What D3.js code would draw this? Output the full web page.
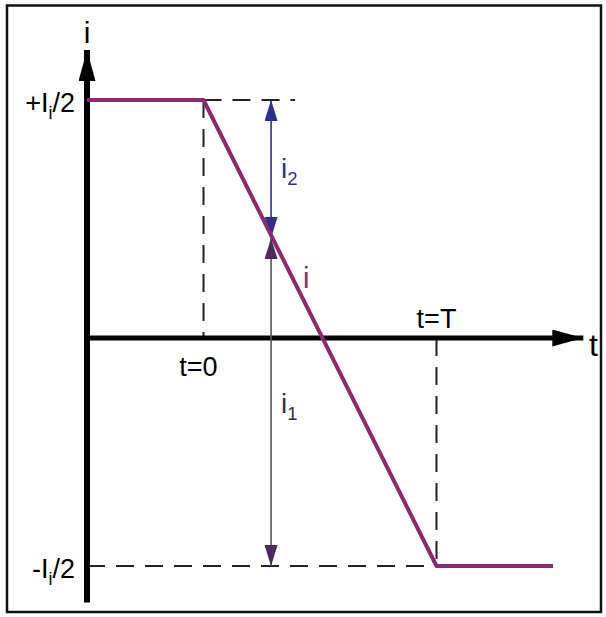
<!DOCTYPE html>
<html>
<head>
<meta charset="utf-8">
<script src="https://cdn.jsdelivr.net/npm/d3@7"></script>
<style>
  html, body { margin: 0; padding: 0; background: #fff; }
  svg text { font-family: "Liberation Sans", Arial, Helvetica, sans-serif; }
</style>
</head>
<body>
<svg id="chart" width="606" height="617"></svg>
<script>
  "use strict";

  // waveform of the current i(t): flat, linear ramp, flat
  var waveT = [-0.5, 0, 1, 1.5];
  var waveI = [0.5, 0.5, -0.5, -0.5];

  // current levels (+Ii/2, -Ii/2) and switching instants
  var levels = [0.5, -0.5];
  var instants = [0, 1];
  var instantLabels = ['t=0', 't=T'];

  // instant where i1 / i2 are measured
  var tMeasure = 0.29;

  // extent of the axes (data units)
  var tAxis = [-0.5, 1.63];
  var iAxis = [-0.58, 0.605];

  var purple = '#8a2c6c';
  var navy = '#2f2f8c';
  var grey = '#555';
  var darkPurple = '#4b2b5c';

  var svg = d3.select('#chart');

  var x = d3.scaleLinear().domain([-0.5, 1.5]).range([87, 553]);
  var y = d3.scaleLinear().domain([-0.5, 0, 0.5]).range([566, 338, 100]);

  var lineFn = d3.line()
      .x(function(d) { return x(d.t); })
      .y(function(d) { return y(d.i); });

  var wave = waveT.map(function(t, idx) {
    return { t: t, i: waveI[idx] };
  });

  // current on the ramp at tMeasure
  var iMeasure = waveI[1] + (waveI[2] - waveI[1]) * (tMeasure - waveT[1]) / (waveT[2] - waveT[1]);

  // frame
  svg.append('rect')
      .attr('x', 7).attr('y', 5.5)
      .attr('width', 594).attr('height', 606.5)
      .attr('fill', 'none')
      .attr('stroke', '#111')
      .attr('stroke-width', 2.5);

  var defs = svg.append('defs');

  function arrowMarker(id, color, len, half) {
    defs.append('marker')
        .attr('id', id)
        .attr('viewBox', '0 ' + (-half) + ' ' + len + ' ' + (2 * half))
        .attr('refX', len).attr('refY', 0)
        .attr('markerUnits', 'userSpaceOnUse')
        .attr('markerWidth', len).attr('markerHeight', 2 * half)
        .attr('orient', 'auto-start-reverse')
      .append('path')
        .attr('d', 'M0,' + (-half) + 'L' + len + ',0L0,' + half + 'Z')
        .attr('fill', color);
  }
  arrowMarker('axisHead', '#000', 31, 8.5);
  arrowMarker('blueHead', navy, 21, 6.5);
  arrowMarker('purpleHead', darkPurple, 21, 6.5);

  // dashed guide lines
  var dash = '18,11';
  var guides = svg.append('g')
      .attr('stroke', '#222')
      .attr('stroke-width', 2)
      .attr('stroke-dasharray', dash)
      .attr('fill', 'none');

  guides.append('line')
      .attr('x1', x(waveT[1])).attr('x2', x(0.393))
      .attr('y1', y(levels[0])).attr('y2', y(levels[0]));
  guides.append('line')
      .attr('x1', x(tAxis[0])).attr('x2', x(instants[1]))
      .attr('y1', y(levels[1])).attr('y2', y(levels[1]));
  guides.append('line')
      .attr('x1', x(instants[0])).attr('x2', x(instants[0]))
      .attr('y1', y(levels[0])).attr('y2', y(0));
  guides.append('line')
      .attr('x1', x(instants[1])).attr('x2', x(instants[1]))
      .attr('y1', y(0)).attr('y2', y(levels[1]));

  // axes
  svg.append('line')
      .attr('x1', x(tAxis[0])).attr('x2', x(tAxis[1]))
      .attr('y1', y(0)).attr('y2', y(0))
      .attr('stroke', '#000').attr('stroke-width', 5)
      .attr('marker-end', 'url(#axisHead)');
  svg.append('line')
      .attr('x1', x(tAxis[0])).attr('x2', x(tAxis[0]))
      .attr('y1', y(iAxis[0])).attr('y2', y(iAxis[1]))
      .attr('stroke', '#000').attr('stroke-width', 6)
      .attr('marker-end', 'url(#axisHead)');

  // i2 and i1 measurement arrows
  svg.append('line')
      .attr('x1', x(tMeasure)).attr('x2', x(tMeasure))
      .attr('y1', y(levels[0])).attr('y2', y(iMeasure))
      .attr('stroke', navy).attr('stroke-width', 1.6)
      .attr('marker-start', 'url(#blueHead)')
      .attr('marker-end', 'url(#blueHead)');
  svg.append('line')
      .attr('x1', x(tMeasure)).attr('x2', x(tMeasure))
      .attr('y1', y(iMeasure)).attr('y2', y(levels[1]))
      .attr('stroke', grey).attr('stroke-width', 1.6)
      .attr('marker-start', 'url(#purpleHead)')
      .attr('marker-end', 'url(#purpleHead)');

  // waveform
  svg.append('path')
      .datum(wave)
      .attr('d', lineFn)
      .attr('fill', 'none')
      .attr('stroke', purple)
      .attr('stroke-width', 4)
      .attr('stroke-linejoin', 'round');

  // labels
  function subLabel(px, py, parts, color, size, anchor) {
    var t = svg.append('text')
        .attr('x', px).attr('y', py)
        .attr('fill', color)
        .attr('font-size', size)
        .attr('text-anchor', anchor || 'start');
    var shift = 0;
    parts.forEach(function(p) {
      var dy = (p.sub ? 7 : 0) - shift;
      shift = p.sub ? 7 : 0;
      t.append('tspan')
          .attr('dy', dy)
          .attr('font-size', p.sub ? size * 0.66 : size)
          .text(p.s);
    });
    return t;
  }

  subLabel(75, y(levels[0]) + 12, [{s: '+I'}, {s: 'i', sub: true}, {s: '/2'}], '#000', 27, 'end');
  subLabel(75, y(levels[1]) + 12, [{s: '-I'}, {s: 'i', sub: true}, {s: '/2'}], '#000', 27, 'end');

  svg.selectAll('text.instant')
      .data(instants)
      .enter().append('text')
      .attr('class', 'instant')
      .attr('x', function(d, idx) { return x(d) + (idx === 0 ? -5 : 0); })
      .attr('y', function(d, idx) { return idx === 0 ? 376 : 328; })
      .attr('text-anchor', 'middle')
      .attr('font-size', 27)
      .attr('fill', '#000')
      .text(function(d, idx) { return instantLabels[idx]; });

  svg.append('text')
      .attr('x', x(tAxis[0])).attr('y', 43)
      .attr('text-anchor', 'middle')
      .attr('font-size', 30)
      .text('i');
  svg.append('text')
      .attr('x', 589).attr('y', 356)
      .attr('font-size', 32)
      .text('t');

  subLabel(x(tMeasure) + 10, 178, [{s: 'i'}, {s: '2', sub: true}], navy, 28);
  subLabel(x(tMeasure) + 10, 413, [{s: 'i'}, {s: '1', sub: true}], '#333', 28);
  svg.append('text')
      .attr('x', x(tMeasure) + 32).attr('y', 288)
      .attr('font-size', 29)
      .attr('fill', purple)
      .text('i');
</script>
</body>
</html>
